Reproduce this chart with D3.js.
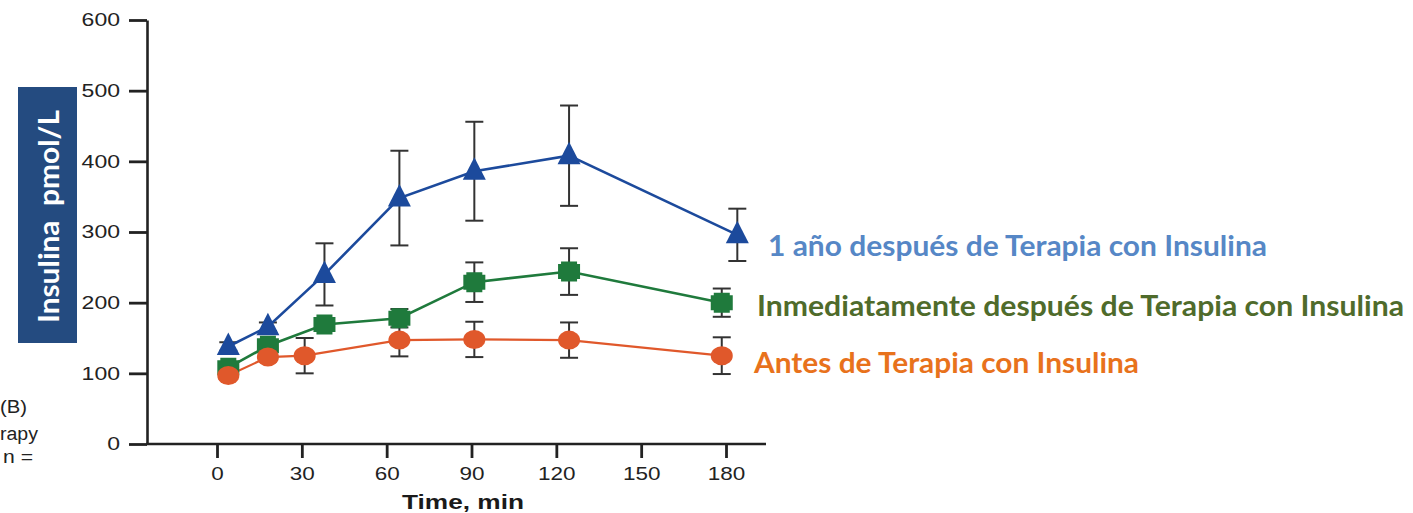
<!DOCTYPE html>
<html>
<head>
<meta charset="utf-8">
<script src="https://cdn.jsdelivr.net/npm/d3@7"></script>
<style>
  body { margin: 0; background: #fff; }
  svg { display: block; }
</style>
</head>
<body>
<svg id="chart" width="1413" height="513"></svg>
<script>
// Tick values
const xTicks = [0, 30, 60, 90, 120, 150, 180];
const yTicks = [0, 100, 200, 300, 400, 500, 600];

// Series labels
const seriesLabels = [
  "1 año después de Terapia con Insulina",
  "Inmediatamente después de Terapia con Insulina",
  "Antes de Terapia con Insulina"
];

// 1 year after insulin therapy (min, pmol/L, ± error)
const timesYear  = [4, 18, 38, 64.5, 91, 124.5, 184];
const valuesYear = [138, 166, 240, 348, 386, 408, 296];
const errorsYear = [6, 6, 44, 67, 70, 71, 37];

// Immediately after insulin therapy
const timesPost  = [4, 18, 38, 64.5, 91, 124.5, 178.5];
const valuesPost = [108, 139, 169, 178, 229, 244, 200];
const errorsPost = [6, 8, 8, 13, 28, 33, 20];

// Before insulin therapy
const timesPre  = [4, 18, 31, 64.5, 91, 124.5, 178.5];
const valuesPre = [97, 123, 125, 147, 148, 147, 125];
const errorsPre = [5, 6, 25, 23, 25, 25, 26];

// Side caption fragments
const sideNotes = ["(B)", "rapy", "n ="];

const svg = d3.select("#chart");

const x = d3.scaleLinear().domain([0, 180]).range([217, 726]);
const y = d3.scaleLinear().domain([0, 600]).range([444, 20]);

const axisColor = "#222";
const tickFont = "'Liberation Sans', Arial, sans-serif";

// Y axis
const yAxis = svg.append("g")
  .attr("transform", "translate(147,0)")
  .call(d3.axisLeft(y).tickValues(yTicks).tickSize(18).tickPadding(9).tickSizeOuter(0));
yAxis.select(".domain").attr("stroke", axisColor).attr("stroke-width", 2.6);
yAxis.selectAll(".tick line").attr("stroke", axisColor).attr("stroke-width", 2.8);
yAxis.selectAll(".tick text")
  .attr("fill", axisColor)
  .style("font-family", tickFont)
  .style("font-size", "18px")
  .attr("textLength", d => String(d).length * 12.8)
  .attr("lengthAdjust", "spacingAndGlyphs");

// X axis
svg.append("line")
  .attr("x1", 146).attr("x2", 766)
  .attr("y1", y(0)).attr("y2", y(0))
  .attr("stroke", axisColor).attr("stroke-width", 2.6);
const xAxis = svg.append("g")
  .attr("transform", `translate(0,${y(0)})`)
  .call(d3.axisBottom(x).tickValues(xTicks).tickSize(14).tickPadding(8.5).tickSizeOuter(0));
xAxis.select(".domain").remove();
xAxis.selectAll(".tick line").attr("stroke", axisColor).attr("stroke-width", 2.8);
xAxis.selectAll(".tick text")
  .attr("fill", axisColor)
  .style("font-family", tickFont)
  .style("font-size", "19px")
  .attr("textLength", d => String(d).length * 12.5)
  .attr("lengthAdjust", "spacingAndGlyphs");

// X axis title
svg.append("text")
  .attr("x", 463).attr("y", 508.5)
  .attr("text-anchor", "middle")
  .attr("fill", "#1a1a1a")
  .style("font-family", tickFont)
  .style("font-weight", "bold")
  .style("font-size", "20px")
  .attr("textLength", 122)
  .attr("lengthAdjust", "spacingAndGlyphs")
  .text("Time, min");

// Y axis title in a filled box
svg.append("rect")
  .attr("x", 18).attr("y", 87).attr("width", 59).attr("height", 256)
  .attr("fill", "#244b80");
svg.append("text")
  .attr("transform", "translate(59,216.5) rotate(-90)")
  .attr("text-anchor", "middle")
  .attr("fill", "#fff")
  .style("font-family", "Lato, 'Open Sans', sans-serif")
  .style("font-weight", "bold")
  .style("font-size", "29px")
  .style("white-space", "pre")
  .attr("textLength", 213)
  .attr("lengthAdjust", "spacingAndGlyphs")
  .text("Insulina  pmol/L");

// Side caption fragments
const notePos = [[0, 413, 27], [0, 439.5, 38], [3, 463, 30]];
svg.selectAll("text.note").data(sideNotes).join("text")
  .attr("class", "note")
  .attr("x", (d, i) => notePos[i][0])
  .attr("y", (d, i) => notePos[i][1])
  .attr("fill", "#222")
  .style("font-family", tickFont)
  .style("font-size", "18px")
  .attr("textLength", (d, i) => notePos[i][2])
  .attr("lengthAdjust", "spacingAndGlyphs")
  .text(d => d);

// Series definitions
const series = [
  { times: timesYear, values: valuesYear, errors: errorsYear, color: "#1c4a9c", width: 2.6, marker: "triangle" },
  { times: timesPost, values: valuesPost, errors: errorsPost, color: "#1f7a3c", width: 2.6, marker: "square" },
  { times: timesPre,  values: valuesPre,  errors: errorsPre,  color: "#e0582b", width: 2.2, marker: "circle" }
];

const points = s => s.times.map((t, i) => ({ t, v: s.values[i], e: s.errors[i] }));

// Error bars (behind everything else)
const capHalf = 9;
series.forEach(s => {
  const g = svg.append("g").attr("stroke", "#333").attr("stroke-width", 2);
  points(s).forEach(p => {
    const cx = x(p.t), y1 = y(p.v + p.e), y2 = y(p.v - p.e);
    g.append("line").attr("x1", cx).attr("x2", cx).attr("y1", y1).attr("y2", y2);
    g.append("line").attr("x1", cx - capHalf).attr("x2", cx + capHalf).attr("y1", y1).attr("y2", y1);
    g.append("line").attr("x1", cx - capHalf).attr("x2", cx + capHalf).attr("y1", y2).attr("y2", y2);
  });
});

// Connecting lines
const line = d3.line().x(d => x(d.t)).y(d => y(d.v));
series.forEach(s => {
  svg.append("path")
    .datum(points(s))
    .attr("fill", "none")
    .attr("stroke", s.color)
    .attr("stroke-width", s.width)
    .attr("d", line);
});

// Markers
const trianglePath = "M0,-14L11.5,8.5L-11.5,8.5Z";
const notchedSquare = "M-8,-10H8V-7.5H11V7.5H8V10H-8V7.5H-11V-7.5H-8Z";
series.forEach(s => {
  const g = svg.append("g").attr("fill", s.color);
  points(s).forEach(p => {
    const cx = x(p.t), cy = y(p.v);
    if (s.marker === "circle") {
      g.append("ellipse").attr("cx", cx).attr("cy", cy).attr("rx", 11).attr("ry", 9.5);
    } else {
      g.append("path")
        .attr("transform", `translate(${cx},${cy})`)
        .attr("d", s.marker === "triangle" ? trianglePath : notchedSquare);
    }
  });
});

// Series labels
const labelColors = ["#5687c6", "#4f6b2b", "#e8721c"];
const labelPos = [[768, 255.7, 499], [757, 315.7, 647], [754, 372.7, 385]];
svg.selectAll("text.series-label").data(seriesLabels).join("text")
  .attr("class", "series-label")
  .attr("x", (d, i) => labelPos[i][0])
  .attr("y", (d, i) => labelPos[i][1])
  .attr("fill", (d, i) => labelColors[i])
  .style("font-family", "Lato, 'Open Sans', sans-serif")
  .style("font-weight", "bold")
  .style("font-size", "28px")
  .attr("textLength", (d, i) => labelPos[i][2])
  .attr("lengthAdjust", "spacingAndGlyphs")
  .text(d => d);
</script>
</body>
</html>
